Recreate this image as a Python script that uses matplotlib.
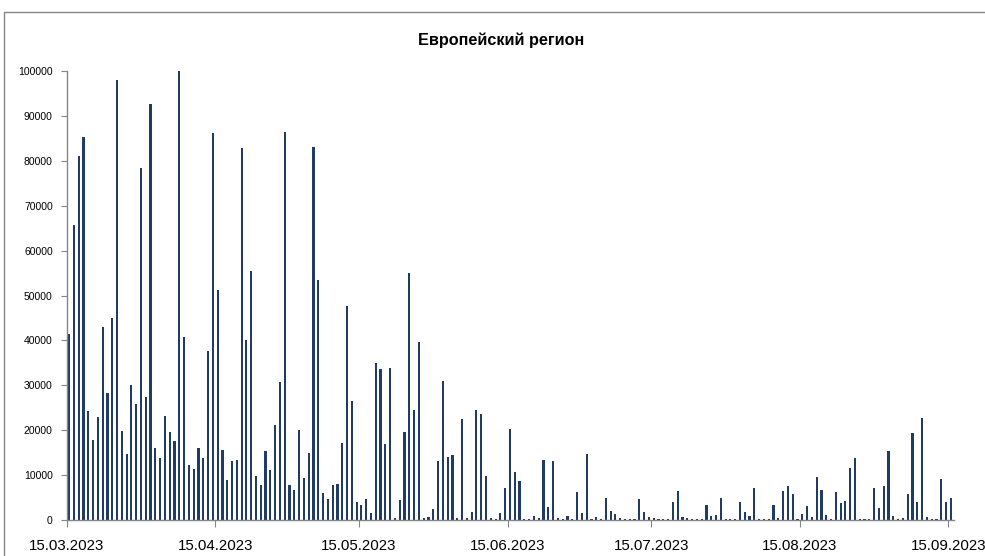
import pandas as pd
import matplotlib.pyplot as plt
from matplotlib.patches import Rectangle

# daily values, 15.03.2023 - 15.09.2023
vals_mar_apr = [41400, 65600, 81000, 85200, 24200, 17800, 22900, 43000, 28300, 45100,
                98100, 19800, 14700, 30100, 25800, 78400, 27400, 92600, 16100, 13700,
                23100, 19600, 17600, 100000, 40700, 12200, 11400, 16000, 13800, 37600]
vals_apr_may = [86300, 51200, 15600, 9000, 13200, 13400, 82800, 40100, 55500, 9700,
                7900, 15400, 11100, 21200, 30700, 86500, 7900, 6600, 20000, 9400,
                15000, 83000, 53500, 6100, 4600, 7700, 8000, 17100, 47600, 26600]
vals_may_jun = [4100, 3300, 4600, 1500, 34900, 33600, 16900, 33900, 400, 4500,
                19700, 54900, 24400, 39700, 400, 600, 2400, 13100, 30900, 14000,
                14500, 400, 22500, 400, 1700, 24500, 23600, 9900, 400, 200,
                1500, 7100, 20300]
vals_jun_jul = [10800, 8600, 200, 200, 900, 400, 13400, 2800, 13200, 400,
                200, 800, 200, 6200, 1500, 14800, 200, 600, 200, 4800,
                2100, 1300, 400, 200, 200, 200, 4700, 1700, 600, 400]
vals_jul_aug = [200, 200, 200, 4100, 6500, 700, 400, 200, 200, 200,
                3300, 1000, 1100, 4800, 200, 200, 200, 3900, 1700, 800,
                7100, 200, 200, 200, 3300, 400, 6500, 7600, 5800, 200, 1300]
vals_aug_sep = [3100, 700, 9600, 6700, 1100, 200, 6200, 3700, 4200, 11600,
                13700, 200, 200, 200, 7200, 2700, 7600, 15400, 800, 200,
                400, 5900, 19300, 3900, 22700, 700, 200, 200, 9200, 3900, 5000]

values = vals_mar_apr + vals_apr_may + vals_may_jun + vals_jun_jul + vals_jul_aug + vals_aug_sep
dates = pd.date_range("2023-03-15", "2023-09-15", freq="D")
tick_dates = pd.date_range("2023-03-01", "2023-09-01", freq="MS") + pd.Timedelta(days=14)

title = "Европейский регион"
bar_color = "#1f3b66"
axis_color = "#868686"

plt.rcParams['font.family'] = ['Liberation Sans', 'DejaVu Sans']

fig = plt.figure(figsize=(9.85, 5.56), dpi=100)
ax = fig.add_axes([66.7 / 985, 36 / 556, 887 / 985, 449 / 556])

x = list(range(len(dates)))
ax.bar(x, values, width=0.45, color=bar_color, linewidth=0)

# ticks sit at day boundaries, bars in the middle of the day
tick_pos = [(d - dates[0]).days - 0.5 for d in tick_dates]
ax.set_xticks(tick_pos)
ax.set_xticklabels([d.strftime("%d.%m.%Y") for d in tick_dates], fontsize=10.8)
ax.set_xlim(-0.5, len(dates) - 0.4)
ax.set_ylim(0, 100000)
ax.set_yticks(range(0, 100001, 10000))
ax.set_yticklabels([str(v) for v in range(0, 100001, 10000)], fontsize=7.5)

for s in ["top", "right"]:
    ax.spines[s].set_visible(False)
for s in ["left", "bottom"]:
    ax.spines[s].set_color(axis_color)
    ax.spines[s].set_linewidth(1)
ax.tick_params(axis="x", direction="out", length=5, color=axis_color, pad=9)
ax.tick_params(axis="y", direction="out", length=4, color=axis_color, pad=6)

fig.text(501 / 985, 1 - 40 / 556, title, ha="center", va="center",
         fontsize=11.7, fontweight="bold")

# outer chart frame
fig.patches.append(Rectangle((4 / 985, -0.1), 1.1, (556 - 12) / 556 + 0.1,
                             transform=fig.transFigure, fill=False,
                             edgecolor=axis_color, linewidth=1))

fig.savefig("out.png", dpi=100)
